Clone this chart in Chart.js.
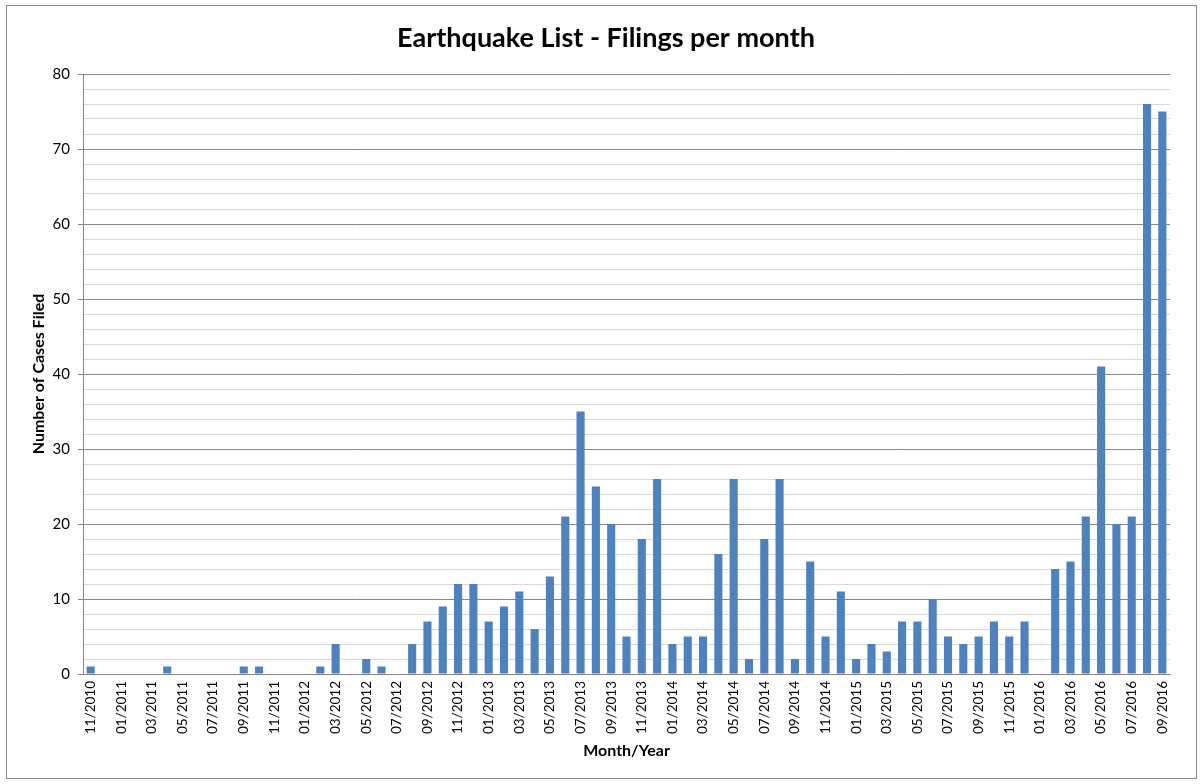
<!DOCTYPE html>
<html>
<head>
<meta charset="utf-8">
<script src="https://cdn.jsdelivr.net/npm/chart.js@4"></script>
<style>
  html, body { margin: 0; padding: 0; background: #fff; }
  #wrap { width: 1203px; height: 784px; position: relative; }
</style>
</head>
<body>
<div id="wrap"><canvas id="filingsChart" width="1203" height="784"></canvas></div>
<script>
// Month labels (11/2010 .. 09/2016)
const months = [
    '11/2010', '12/2010',
    '01/2011', '02/2011', '03/2011', '04/2011', '05/2011', '06/2011', '07/2011', '08/2011', '09/2011', '10/2011', '11/2011', '12/2011',
    '01/2012', '02/2012', '03/2012', '04/2012', '05/2012', '06/2012', '07/2012', '08/2012', '09/2012', '10/2012', '11/2012', '12/2012',
    '01/2013', '02/2013', '03/2013', '04/2013', '05/2013', '06/2013', '07/2013', '08/2013', '09/2013', '10/2013', '11/2013', '12/2013',
    '01/2014', '02/2014', '03/2014', '04/2014', '05/2014', '06/2014', '07/2014', '08/2014', '09/2014', '10/2014', '11/2014', '12/2014',
    '01/2015', '02/2015', '03/2015', '04/2015', '05/2015', '06/2015', '07/2015', '08/2015', '09/2015', '10/2015', '11/2015', '12/2015',
    '01/2016', '02/2016', '03/2016', '04/2016', '05/2016', '06/2016', '07/2016', '08/2016', '09/2016'
];

// Number of cases filed per month
const filings = [
    1, 0,
    0, 0, 0, 1, 0, 0, 0, 0, 1, 1, 0, 0,
    0, 1, 4, 0, 2, 1, 0, 4, 7, 9, 12, 12,
    7, 9, 11, 6, 13, 21, 35, 25, 20, 5, 18, 26,
    4, 5, 5, 16, 26, 2, 18, 26, 2, 15, 5, 11,
    2, 4, 3, 7, 7, 10, 5, 4, 5, 7, 5, 7,
    0, 14, 15, 21, 41, 20, 21, 76, 75
];

const yMax = 80;
const yMajorStep = 10;
const yMinorStep = 2;

const fontFamily = 'Lato, "Open Sans", sans-serif';

// Draws the outer chart frame like the spreadsheet chart object
const framePlugin = {
    id: 'frame',
    beforeDraw(chart) {
        const ctx = chart.ctx;
        ctx.save();
        ctx.fillStyle = '#ffffff';
        ctx.fillRect(0, 0, chart.width, chart.height);
        ctx.strokeStyle = '#8c8c8c';
        ctx.lineWidth = 1;
        ctx.strokeRect(6.5, 5.5, 1190, 773);
        ctx.restore();
    }
};

const ctx = document.getElementById('filingsChart').getContext('2d');

new Chart(ctx, {
    type: 'bar',
    data: {
        labels: months,
        datasets: [{
            label: 'Filings',
            data: filings,
            backgroundColor: '#4F81BD',
            borderWidth: 0,
            categoryPercentage: 1.0,
            barPercentage: 0.53
        }]
    },
    options: {
        responsive: false,
        animation: false,
        layout: {
            padding: { left: 42, right: 33, top: 22, bottom: 24 }
        },
        plugins: {
            legend: { display: false },
            tooltip: { enabled: false },
            title: {
                display: true,
                text: 'Earthquake List - Filings per month',
                color: '#000',
                font: { family: fontFamily, size: 27, weight: 'bold' },
                padding: { top: 0, bottom: 19.6 }
            }
        },
        scales: {
            x: {
                afterFit(scale) { scale.height = 86; },
                grid: { display: true, drawOnChartArea: false, drawTicks: false },
                border: { display: true, color: '#868686', width: 1 },
                ticks: {
                    autoSkip: false,
                    minRotation: 90,
                    maxRotation: 90,
                    padding: 7,
                    color: '#000',
                    font: { family: fontFamily, size: 13.5 },
                    callback: function(value, index) {
                        return index % 2 === 0 ? months[index] : '';
                    }
                },
                title: {
                    display: true,
                    text: 'Month/Year',
                    color: '#000',
                    font: { family: fontFamily, size: 16, weight: 'bold' },
                    padding: { top: 4, bottom: 0 }
                }
            },
            y: {
                min: 0,
                max: yMax,
                afterFit(scale) { scale.width = 41; },
                border: { display: true, color: '#868686', width: 1 },
                grid: {
                    color: function(context) {
                        return context.tick && context.tick.value % yMajorStep === 0 ? '#868686' : '#d9d9d9';
                    },
                    tickColor: function(context) {
                        return context.tick && context.tick.value % yMajorStep === 0 ? '#868686' : 'rgba(0,0,0,0)';
                    },
                    tickLength: 5,
                    lineWidth: 1
                },
                ticks: {
                    autoSkip: false,
                    stepSize: yMinorStep,
                    padding: 8,
                    color: '#000',
                    font: { family: fontFamily, size: 15 },
                    callback: function(value) {
                        return value % yMajorStep === 0 ? value : '';
                    }
                },
                title: {
                    display: true,
                    text: 'Number of Cases Filed',
                    color: '#000',
                    font: { family: fontFamily, size: 16, weight: 'bold' },
                    padding: { top: -13, bottom: 0 }
                }
            }
        }
    },
    plugins: [framePlugin]
});
</script>
</body>
</html>
